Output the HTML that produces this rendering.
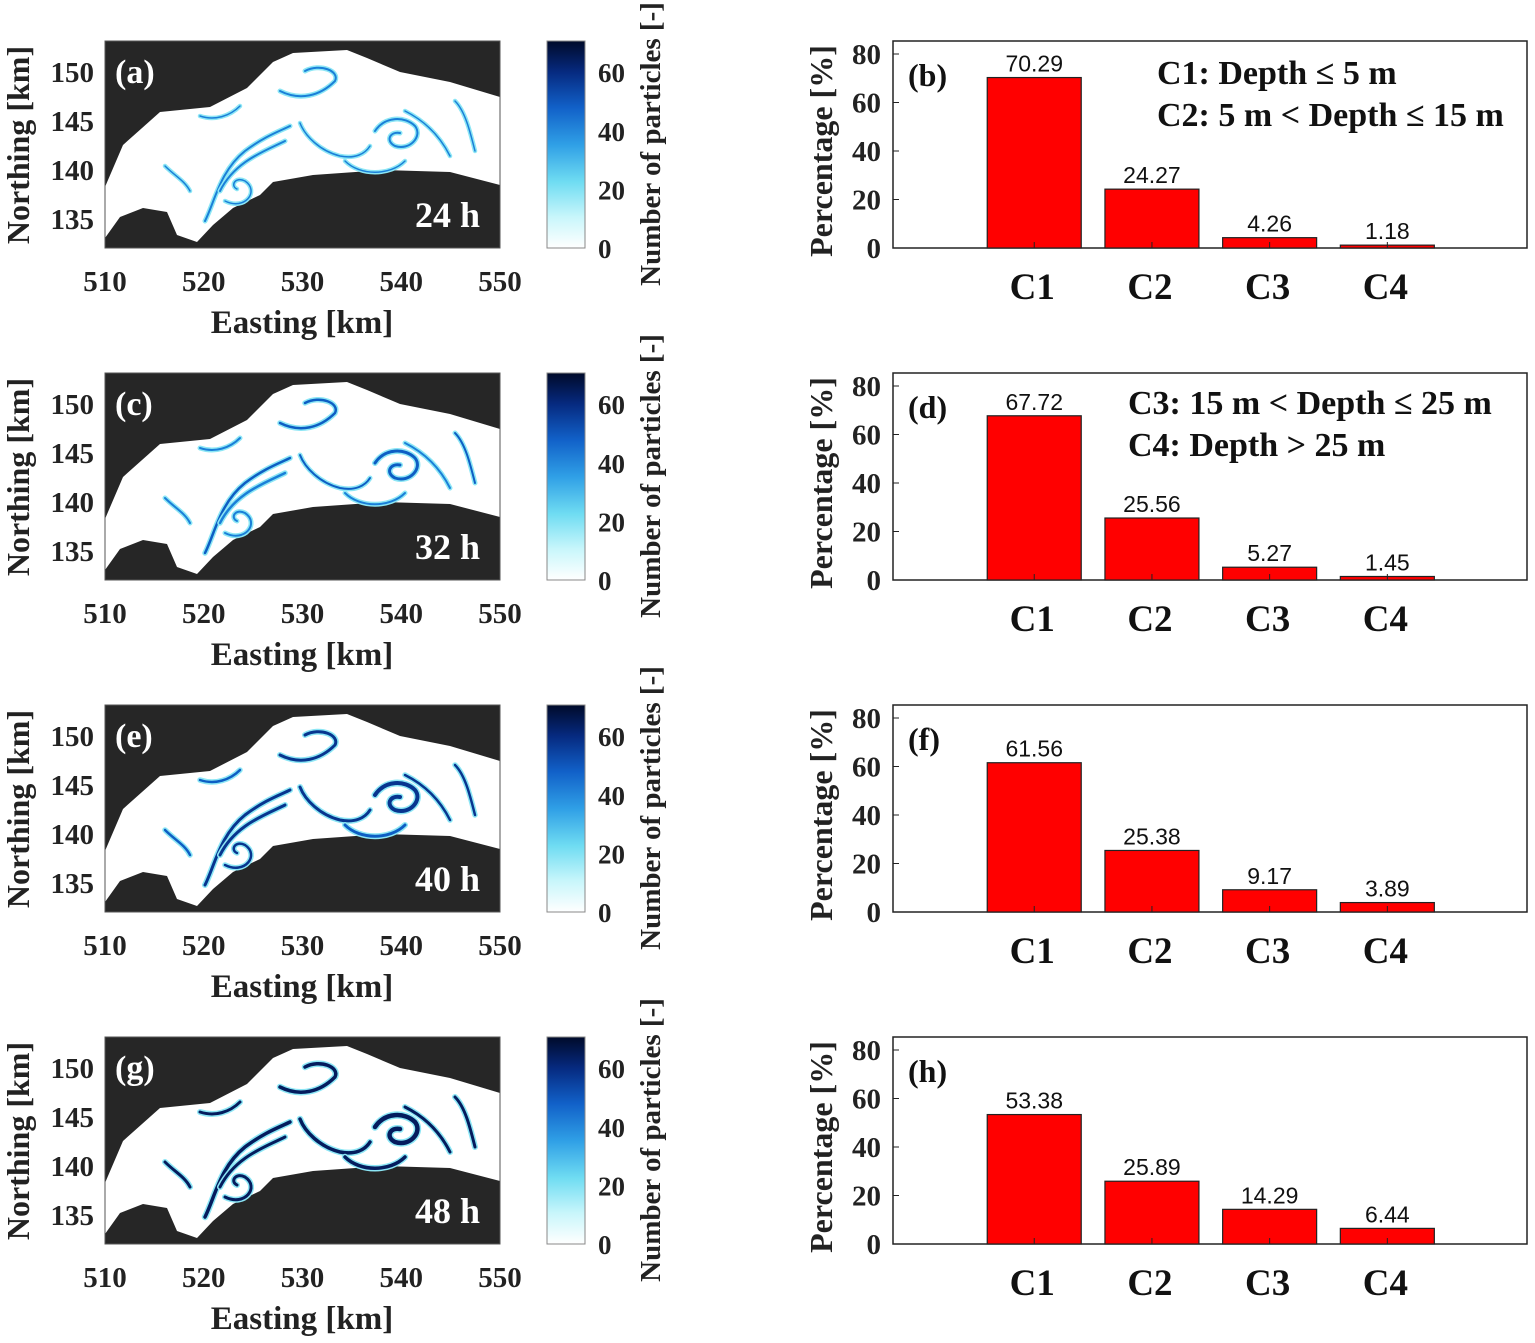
<!DOCTYPE html>
<html><head><meta charset="utf-8"><style>
body{margin:0;background:#fff;}
svg{display:block;font-family:"Liberation Serif",serif;}
</style></head><body>
<svg id="fig" width="1535" height="1343" viewBox="0 0 1535 1343">
<defs>
<linearGradient id="cb" x1="0" y1="1" x2="0" y2="0">
<stop offset="0" stop-color="#ffffff"/><stop offset="0.15" stop-color="#c8f6fb"/>
<stop offset="0.32" stop-color="#6fdcf2"/><stop offset="0.5" stop-color="#2f9fe6"/>
<stop offset="0.68" stop-color="#1160c8"/><stop offset="0.85" stop-color="#062a80"/>
<stop offset="1" stop-color="#000a2a"/></linearGradient>
<clipPath id="mapclip"><rect x="0" y="0" width="395" height="207"/></clipPath>
</defs>
<g id="root"></g>
</svg>
<script>
const mapLabels=["(a)","(c)","(e)","(g)"];
const hourLabels=["24 h","32 h","40 h","48 h"];
const barLabels=["(b)","(d)","(f)","(h)"];
const categories=["C1","C2","C3","C4"];
const seriesB=[70.29,24.27,4.26,1.18];
const seriesD=[67.72,25.56,5.27,1.45];
const seriesF=[61.56,25.38,9.17,3.89];
const seriesH=[53.38,25.89,14.29,6.44];
const yTicks=[0,20,40,60,80];
const eastTicks=[510,520,530,540,550];
const northTicks=[135,140,145,150];
const cbTicks=[0,20,40,60];
const allSeries=[seriesB,seriesD,seriesF,seriesH];
const NS="http://www.w3.org/2000/svg";
const root=document.getElementById('root');
function el(tag,attrs,parent,text){const e=document.createElementNS(NS,tag);for(const k in attrs)e.setAttribute(k,attrs[k]);if(text!==undefined)e.textContent=text;(parent||root).appendChild(e);return e;}
const water="M0,146 L18,104 L55,71 L105,66 L142,47 L168,21 L188,12 L242,9 L262,17 L295,31 L345,41 L395,56 L395,144 L345,131 L278,129 L208,134 L168,141 L155,154 L128,167 L108,184 L92,201 L72,194 L62,171 L38,167 L15,176 L0,197 Z";
const streaks=[
"M100,180 C110,160 115,130 140,110 C160,95 175,90 185,85",
"M60,125 C70,135 80,140 85,150",
"M115,150 C130,120 160,110 180,100",
"M195,82 C200,95 215,110 235,115 C250,118 260,113 265,105",
"M270,90 C280,75 300,75 310,85 C318,95 305,110 290,105 C280,100 285,90 295,92",
"M240,120 C255,135 285,135 300,120",
"M300,70 C320,80 335,95 345,115",
"M350,60 C360,70 365,90 370,110",
"M175,50 C195,60 215,55 230,40 C235,30 215,22 200,30",
"M95,75 C110,80 125,75 135,65",
"M120,160 C140,170 155,150 140,140 C130,135 125,145 132,148"];
const widths=[[2,1.5,2,1.5,2,1.5,1.5,1.5,2,1.5,1.5],[2.5,2,2.5,2,3,2,2,2,2.5,2,2],[3,2.5,3,3,4,3,2.5,2.5,3,2.5,2.5],[3.5,3,3,3.5,4.5,3.5,3,3,3.5,3,3]];
const colors=["#1a7fd8","#0d5ec4","#07358f","#041c5e"];
for(let r=0;r<4;r++){
 const oy=41+332*r;
 const g=el('g',{transform:`translate(105,${oy})`,});
 el('rect',{x:0,y:0,width:395,height:207,fill:'#262626'},g);
 const gc=el('g',{'clip-path':'url(#mapclip)'},g);
 el('path',{d:water,fill:'#fff'},gc);
 streaks.forEach((d,i)=>{el('path',{d:d,fill:'none',stroke:'#8ce6f5','stroke-width':widths[r][i]+3,'stroke-linecap':'round'},gc);
  const p=el('path',{d:d,fill:'none',stroke:colors[(i+r)%4>r?Math.max(0,r-1):r],'stroke-width':widths[r][i],'stroke-linecap':'round'},gc);
  });
 el('text',{x:10,y:42,fill:'#fff','font-size':34,'font-weight':'bold',},g,mapLabels[r]);
 el('text',{x:375,y:186,fill:'#fff','font-size':36,'font-weight':'bold','text-anchor':'end',},g,hourLabels[r]);
 el('rect',{x:0,y:0,width:395,height:207,fill:'none',stroke:'#555','stroke-width':1},g);
 eastTicks.forEach(v=>{const x=105+(v-510)*9.875;const t=el('text',{x:x,y:oy+250,'font-size':29,'font-weight':'bold','text-anchor':'middle','fill':'#222'},root,v);});
 northTicks.forEach(v=>{const y=oy+31+(150-v)*9.8;const t=el('text',{x:94,y:y+10,'font-size':29,'font-weight':'bold','text-anchor':'end',fill:'#222'},root,v);});
 el('text',{x:302,y:oy+292,'font-size':33,'font-weight':'bold','text-anchor':'middle',fill:'#222',},root,'Easting [km]');
 el('text',{x:0,y:0,'font-size':32,'font-weight':'bold','text-anchor':'middle',fill:'#222',transform:`translate(29,${oy+104}) rotate(-90)`,},root,'Northing [km]');
 el('rect',{x:547,y:oy,width:38,height:207,fill:'url(#cb)',stroke:'#888','stroke-width':1,});
 cbTicks.forEach(v=>{const y=oy+207-v*2.93;const t=el('text',{x:598,y:y+10,'font-size':27,'font-weight':'bold',fill:'#222'},root,v);});
 el('text',{x:0,y:0,'font-size':29,'font-weight':'bold','text-anchor':'middle',fill:'#222',transform:`translate(660,${oy+103}) rotate(-90)`,},root,'Number of particles [-]');
 const ax0=893,ax1=1527,yb=oy+207,pxPerUnit=194/80,xu=117.7;
 const yS=v=>yb-v*pxPerUnit; const xS=k=>ax0+(k+1.2)*xu;
 el('rect',{x:ax0,y:oy,width:ax1-ax0,height:207,fill:'#fff',stroke:'#222','stroke-width':1.5,});
 yTicks.forEach(v=>{const y=yS(v);el('line',{x1:ax0,x2:ax0+6,y1:y,y2:y,stroke:'#222'});
  const t=el('text',{x:ax0-12,y:y+10,'font-size':29,'font-weight':'bold','text-anchor':'end',fill:'#222'},root,v);});
 const s=allSeries[r];
 s.forEach((v,k)=>{const cx=xS(k);
  const b=el('rect',{x:cx-47,y:yS(v),width:94,height:yb-yS(v),fill:'#ff0000',stroke:'#222','stroke-width':1.2});
  
  const t=el('text',{x:cx,y:yS(v)-6,'font-size':23,'text-anchor':'middle','font-family':'Liberation Sans, sans-serif',fill:'#111'},root,v.toFixed(2));
  
  const c=el('text',{x:cx-2,y:oy+258,'font-size':37,'font-weight':'bold','text-anchor':'middle',fill:'#111'},root,categories[k]);
  
  el('line',{x1:cx,x2:cx,y1:yb,y2:yb-6,stroke:'#222'});});
 el('text',{x:908,y:oy+45,'font-size':32,'font-weight':'bold',fill:'#111',},root,barLabels[r]);
 el('text',{x:0,y:0,'font-size':32,'font-weight':'bold','text-anchor':'middle',fill:'#222',transform:`translate(832,${oy+110}) rotate(-90)`,},root,'Percentage [%]');
}
const leg=[[1157,84,"C1: Depth ≤ 5 m"],[1157,126,"C2: 5 m < Depth ≤ 15 m"],[1128,414,"C3: 15 m < Depth ≤ 25 m"],[1128,456,"C4: Depth > 25 m"]];
leg.forEach(l=>{const t=el('text',{x:l[0],y:l[1],'font-size':34,'font-weight':'bold',fill:'#111'},root,l[2]);});
</script>
</body></html>
